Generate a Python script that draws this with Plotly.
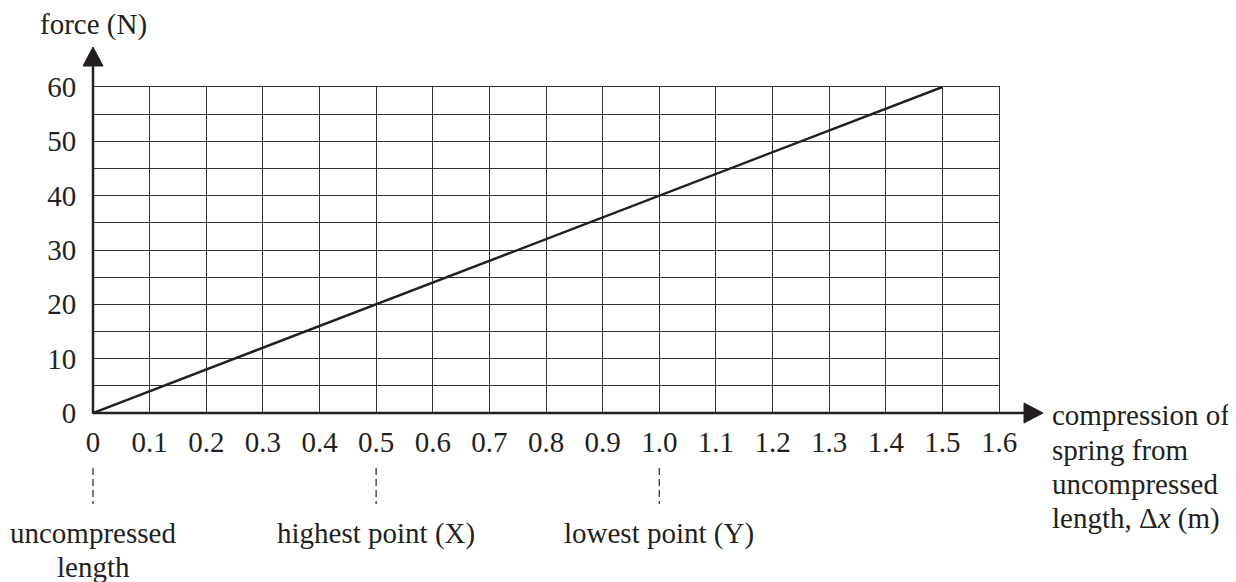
import plotly.graph_objects as go

# ---- data ----
line_x = [0.0, 1.5]
line_y = [0, 60]
x_ticks = [0, 0.1, 0.2, 0.3, 0.4, 0.5, 0.6, 0.7, 0.8, 0.9, 1.0, 1.1, 1.2, 1.3, 1.4, 1.5, 1.6]
x_tick_text = ["0", "0.1", "0.2", "0.3", "0.4", "0.5", "0.6", "0.7", "0.8", "0.9",
               "1.0", "1.1", "1.2", "1.3", "1.4", "1.5", "1.6"]
y_ticks = [0, 10, 20, 30, 40, 50, 60]
y_tick_text = ["0", "10", "20", "30", "40", "50", "60"]
marker_x = [0.0, 0.5, 1.0]
marker_labels = [["uncompressed", "length"], ["highest point (X)"], ["lowest point (Y)"]]
x_title_lines = ["compression of", "spring from", "uncompressed", "length, Δ<i>x</i> (m)"]
y_title = "force (N)"

X_MAX = 1.6
Y_MAX = 60

OFF = 8  # page body margin
W, H = 1236, 582
L, T = 93 - OFF, 87 - OFF
R = W - (999 - OFF)
B = H - (413 - OFF)
PW, PH = W - L - R, H - T - B
INK = "#231f20"
GRID = "#333333"
FONT = dict(family="Liberation Serif, Times New Roman, serif", size=29, color=INK)


def px_x(p):
    return (p - OFF - L) / PW


def px_y(p):
    return (H - B - (p - OFF)) / PH


fig = go.Figure()
fig.add_trace(go.Scatter(x=line_x, y=line_y, mode="lines",
                         line=dict(color=INK, width=2.5), hoverinfo="skip",
                         showlegend=False))

shapes = []
# main axes (thick) with arrows
shapes.append(dict(type="line", xref="paper", yref="paper", x0=0, y0=0,
                   x1=px_x(1028), y1=0, line=dict(color=INK, width=2.5), layer="above"))
shapes.append(dict(type="line", xref="paper", yref="paper", x0=0, y0=0,
                   x1=0, y1=px_y(62), line=dict(color=INK, width=2.5), layer="above"))
# arrowheads
shapes.append(dict(type="path", xref="paper", yref="paper",
                   path=f"M {px_x(1024)} {px_y(403)} L {px_x(1043)} {px_y(413)} L {px_x(1024)} {px_y(423)} Z",
                   fillcolor=INK, line=dict(color=INK, width=1), layer="above"))
shapes.append(dict(type="path", xref="paper", yref="paper",
                   path=f"M {px_x(83)} {px_y(66)} L {px_x(93)} {px_y(47)} L {px_x(103)} {px_y(66)} Z",
                   fillcolor=INK, line=dict(color=INK, width=1), layer="above"))
# dashed markers below the axis
for mx in marker_x:
    shapes.append(dict(type="line", xref="paper", yref="paper",
                       x0=mx / X_MAX, x1=mx / X_MAX, y0=px_y(468), y1=px_y(504),
                       line=dict(color=INK, width=1.2, dash="7px,4px")))

annotations = []
label_rows = [533, 567]
for mx, lines in zip(marker_x, marker_labels):
    for row, txt in zip(label_rows, lines):
        annotations.append(dict(x=mx, xref="x", y=px_y(row), yref="paper",
                                text=txt, showarrow=False, xanchor="center",
                                yanchor="middle", font=FONT))
title_rows = [415, 450, 484, 518]
for row, txt in zip(title_rows, x_title_lines):
    annotations.append(dict(x=px_x(1050), xref="paper", y=px_y(row), yref="paper",
                            text=txt, showarrow=False, xanchor="left", yanchor="middle",
                            font=FONT))
annotations.append(dict(x=0, xref="paper", y=px_y(24), yref="paper",
                        text=y_title, showarrow=False, xanchor="center", yanchor="middle",
                        font=FONT))

fig.update_layout(
    width=W, height=H,
    margin=dict(l=L, r=R, t=T, b=B, autoexpand=False),
    plot_bgcolor="white", paper_bgcolor="white",
    font=FONT,
    shapes=shapes, annotations=annotations,
    xaxis=dict(range=[0, X_MAX], tickmode="array", tickvals=x_ticks, ticktext=x_tick_text,
               showgrid=True, gridcolor=GRID, gridwidth=1,
               showline=True, mirror=True, linecolor=GRID, linewidth=1,
               zeroline=False, ticks="", ticklabelstandoff=3, fixedrange=True),
    yaxis=dict(range=[0, Y_MAX], tickmode="array", tickvals=y_ticks, ticktext=y_tick_text,
               showgrid=True, gridcolor=GRID, gridwidth=1,
               minor=dict(showgrid=True, dtick=5, gridcolor=GRID, gridwidth=1),
               showline=True, mirror=True, linecolor=GRID, linewidth=1,
               zeroline=False, ticks="", ticklabelstandoff=10, fixedrange=True),
    showlegend=False,
)

fig.write_html("out.html")
